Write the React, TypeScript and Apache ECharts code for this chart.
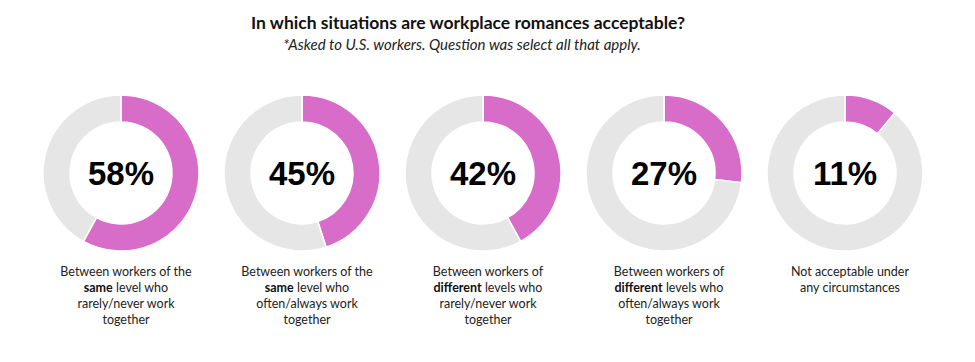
import React, { useEffect, useRef } from "react";
import * as echarts from "echarts";

const percents = [58, 45, 42, 27, 11];
const captions = [
  "Between workers of the\n{b|same} level who\nrarely/never work\ntogether",
  "Between workers of the\n{b|same} level who\noften/always work\ntogether",
  "Between workers of\n{b|different} levels who\nrarely/never work\ntogether",
  "Between workers of\n{b|different} levels who\noften/always work\ntogether",
  "Not acceptable under\nany circumstances",
];
const titleText = "In which situations are workplace romances acceptable?";
const subtitleText = "*Asked to U.S. workers. Question was select all that apply.";

const centersX = [121, 302, 483, 664, 845];
const centerY = 173;
const PINK = "#d76cc9";
const GREY = "#e6e6e6";
const FONT = "Lato, 'Open Sans', sans-serif";
const NUMFONT = "'Liberation Sans', Arial, sans-serif";

export default function App() {
  const ref = useRef<HTMLDivElement>(null);
  useEffect(() => {
    document.body.style.margin = "0";
    const chart = echarts.init(ref.current!, null, { renderer: "svg" });
    const series = percents.map((p, i) => ({
      type: "pie",
      radius: [51, 78],
      center: [centersX[i], centerY],
      startAngle: 90,
      clockwise: true,
      silent: true,
      itemStyle: { borderColor: "#ffffff", borderWidth: 1.5 },
      labelLine: { show: false },
      data: [
        {
          value: p,
          name: "yes" + i,
          itemStyle: { color: PINK },
          label: {
            show: true,
            position: "center",
            formatter: `${p}%`,
            fontSize: 33,
            fontWeight: "bold",
            color: "#000",
            fontFamily: NUMFONT,
          },
        },
        {
          value: 100 - p,
          name: "no" + i,
          itemStyle: { color: GREY },
          label: { show: false },
        },
      ],
    }));
    const titles: any[] = [
      {
        text: titleText,
        left: 463,
        top: 8,
        textAlign: "center",
        textStyle: { fontSize: 17.5, fontWeight: "bold", color: "#111", fontFamily: FONT },
      },
      {
        text: subtitleText,
        left: 457,
        top: 31,
        textAlign: "center",
        textStyle: { fontSize: 15, fontStyle: "italic", fontWeight: "normal", color: "#222", fontFamily: FONT },
      },
    ];
    captions.forEach((c, i) => {
      titles.push({
        text: c,
        left: centersX[i],
        top: 258,
        textAlign: "center",
        textStyle: {
          fontSize: 12.5,
          fontWeight: "normal",
          color: "#222",
          lineHeight: 16,
          fontFamily: FONT,
          rich: {
            b: { fontSize: 12.5, fontWeight: "bold", color: "#111", lineHeight: 16, fontFamily: FONT },
          },
        },
      });
    });
    chart.setOption({
      animation: false,
      backgroundColor: "#ffffff",
      title: titles,
      series,
    });
    return () => chart.dispose();
  }, []);
  return <div ref={ref} style={{ width: 975, height: 362 }} />;
}
